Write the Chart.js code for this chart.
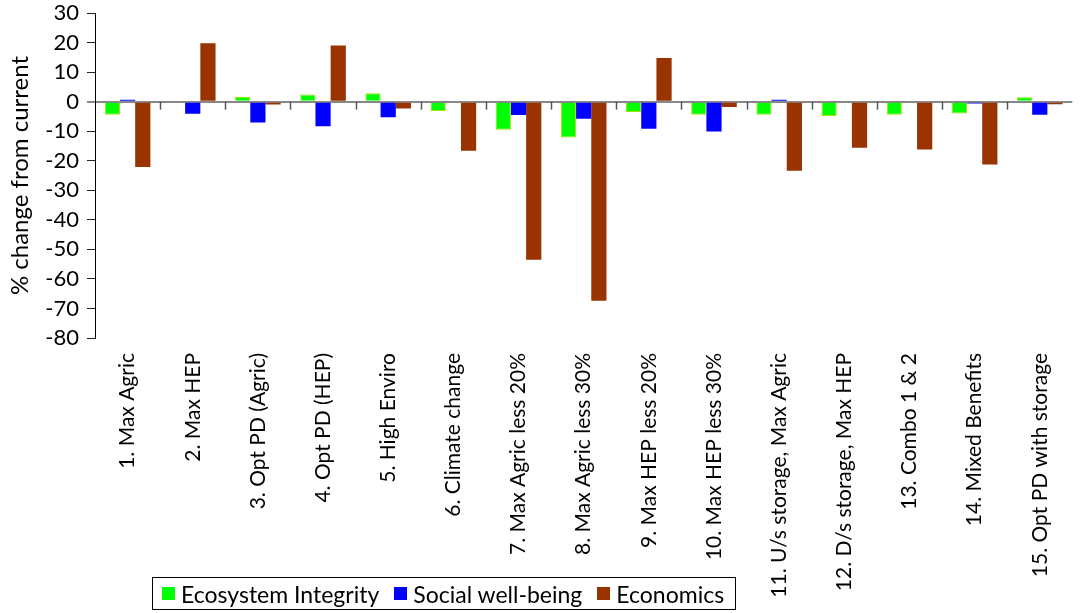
<!DOCTYPE html>
<html>
<head>
<meta charset="utf-8">
<script src="https://cdn.jsdelivr.net/npm/chart.js@4/dist/chart.umd.min.js"></script>
<style>
  html, body { margin: 0; padding: 0; background: #fff; }
  #wrap { position: relative; width: 1080px; height: 613px; }
  #legend {
    position: absolute; left: 152px; top: 577px; width: 584px; height: 33px;
    border: 1px solid #000; box-sizing: border-box;
    font-family: Lato, sans-serif; font-size: 23px; color: #000;
    display: flex; align-items: center; padding-left: 9px; white-space: nowrap;
  }
  #legend span.box { display: inline-block; width: 13px; height: 13px; margin-right: 6px; }
  #legend span.item { display: inline-flex; align-items: center; margin-right: 15px; }
</style>
</head>
<body>
<div id="wrap">
  <canvas id="myChart" width="1080" height="613"></canvas>
  <div id="legend"></div>
</div>
<script>
// Escenarios y cambios (%) respecto a la situación actual
const escenarios = [
  '1. Max Agric', '2. Max HEP', '3. Opt PD (Agric)', '4. Opt PD (HEP)', '5. High Enviro',
  '6. Climate change', '7. Max Agric less 20%', '8. Max Agric less 30%', '9. Max HEP less 20%',
  '10. Max HEP less 30%', '11. U/s storage, Max Agric', '12. D/s storage, Max HEP',
  '13. Combo 1 & 2', '14. Mixed Benefits', '15. Opt PD with storage'
];
const ecosistema = [-4.4, 0, 1.6, 2.4, 2.8, -3.2, -9.5, -12.1, -3.5, -4.4, -4.4, -4.9, -4.4, -4.0, 1.5];
const social     = [0.6, -4.1, -7.1, -8.3, -5.3, 0, -4.5, -5.8, -9.2, -10.1, 0.6, 0, 0, -0.6, -4.4];
const economia   = [-22.1, 19.8, -1.0, 19.0, -2.3, -16.6, -53.5, -67.4, 14.8, -1.8, -23.4, -15.6, -16.2, -21.3, -0.9];
const series = ['Ecosystem Integrity', 'Social well-being', 'Economics'];
const colores = ['#00ff00', '#0000ff', '#993300'];
const bordes = ['#a6e000', '#3a3aff', '#b0603a'];

const fuente = 'Lato, sans-serif';

/* Marcas de separación entre categorías sobre la línea del cero */
const marcasCero = {
  id: 'marcasCero',
  afterDatasetsDraw(chart) {
    const x = chart.scales.x, y = chart.scales.y;
    const y0 = y.getPixelForValue(0);
    const c = chart.ctx;
    c.save();
    c.strokeStyle = '#555';
    c.lineWidth = 1.5;
    for (let i = 0; i < escenarios.length - 1; i++) {
      const px = Math.round((x.getPixelForValue(i) + x.getPixelForValue(i + 1)) / 2) + 0.5;
      c.beginPath();
      c.moveTo(px, y0);
      c.lineTo(px, y0 + 8);
      c.stroke();
    }
    c.restore();
  }
};

const ctx = document.getElementById('myChart');
const myChart = new Chart(ctx, {
  type: 'bar',
  data: {
    labels: escenarios,
    datasets: [
      { label: series[0], data: ecosistema, backgroundColor: colores[0], borderColor: bordes[0], borderWidth: 1 },
      { label: series[1], data: social, backgroundColor: colores[1], borderColor: bordes[1], borderWidth: 0 },
      { label: series[2], data: economia, backgroundColor: colores[2], borderColor: bordes[2], borderWidth: 0 }
    ]
  },
  options: {
    responsive: false,
    animation: false,
    layout: { padding: { top: 13, right: 1, left: 0, bottom: 0 } },
    datasets: { bar: { barPercentage: 1, categoryPercentage: 0.70 } },
    plugins: {
      legend: { display: false },
      tooltip: { enabled: false }
    },
    scales: {
      x: {
        grid: { display: false, drawTicks: false },
        border: { display: false },
        ticks: {
          minRotation: 90, maxRotation: 90, autoSkip: false, padding: 15,
          color: '#000', font: { family: fuente, size: 21 }
        },
        afterFit(scale) { scale.height = 613 - 338; }
      },
      y: {
        min: -80, max: 30,
        border: { display: true, color: '#000', width: 1 },
        grid: {
          drawOnChartArea: true,
          color: (c) => c.tick && c.tick.value === 0 ? '#888' : 'transparent',
          lineWidth: (c) => c.tick && c.tick.value === 0 ? 2 : 1,
          tickColor: (c) => c.tick && c.tick.value === 0 ? '#888' : '#222',
          tickLength: 8
        },
        ticks: {
          stepSize: 10, autoSkip: false, padding: 8,
          color: '#000', font: { family: fuente, size: 22 }
        },
        title: {
          display: true, text: '% change from current', color: '#000',
          font: { family: fuente, size: 24 }, padding: { top: 6, bottom: 4 }
        },
        afterFit(scale) {
          scale.width = 95;
          scale.paddingTop = 0;
          scale.paddingBottom = 0;
        }
      }
    }
  },
  plugins: [marcasCero]
});

// Leyenda en HTML con recuadro
const leyenda = document.getElementById('legend');
series.forEach((s, i) => {
  const item = document.createElement('span');
  item.className = 'item';
  item.innerHTML = '<span class="box" style="background:' + colores[i] + '"></span>' + s;
  leyenda.appendChild(item);
});
</script>
</body>
</html>
